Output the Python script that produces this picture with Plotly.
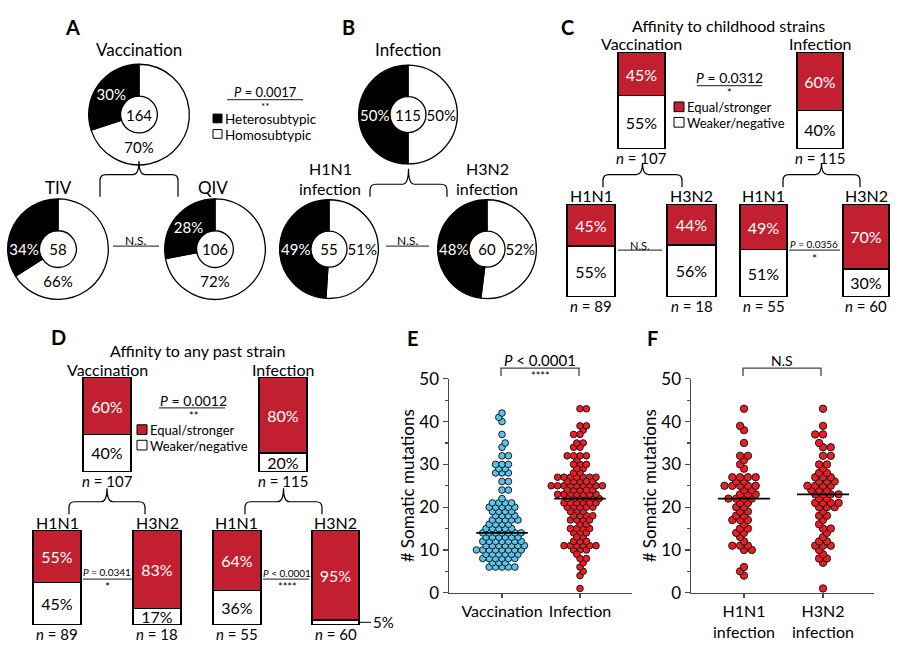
import numpy as np
import plotly.graph_objects as go

W, H = 898, 655
FONT = "Lato, 'DejaVu Sans', sans-serif"
RED_BAR = "#C21F30"
RED_DOT = "#EE1C25"
BLUE_DOT = "#5BC4EE"
AX_COL = "#4a4a4a"

# ---------------- data ----------------
pie_names = ["Vaccination", "TIV", "QIV", "Infection", "H1N1 infection", "H3N2 infection"]
pie_n = [164, 58, 106, 115, 55, 60]
pie_hetero = [30, 34, 28, 50, 49, 48]
pie_homo = [70, 66, 72, 50, 51, 52]
pie_labels = ["Homosubtypic", "Heterosubtypic"]

bar_names = ["Vaccination", "Infection", "H1N1", "H3N2", "H1N1", "H3N2"]
bar_n = [107, 115, 89, 18, 55, 60]
child_equal = [45, 60, 45, 44, 49, 70]
child_weaker = [55, 40, 55, 56, 51, 30]
past_equal = [60, 80, 55, 83, 64, 95]
past_weaker = [40, 20, 45, 17, 36, 5]
bar_labels = ["Equal/stronger", "Weaker/negative"]

vacc_mut = [6, 6, 6, 6, 6, 7, 7, 7, 8, 8, 8, 8, 8, 8, 9, 9, 9, 9, 9, 9,
            10, 10, 10, 10, 10, 10, 10, 10, 11, 11, 11, 11, 11, 11, 11,
            12, 12, 12, 12, 12, 12, 12, 13, 13, 13, 13, 13, 13,
            14, 14, 14, 14, 14, 14, 14, 15, 15, 15, 15, 15, 16, 16, 16, 16,
            17, 17, 17, 17, 17, 18, 18, 18, 18, 19, 19, 19, 19,
            20, 20, 20, 20, 20, 21, 21, 21, 21, 22, 24, 24, 26, 26,
            28, 28, 28, 29, 29, 30, 30, 30, 32, 32, 34, 35, 37, 40, 41, 42]
h1n1_mut = [4, 5, 6, 10, 10, 11, 11, 11, 12, 13, 14, 14, 15, 15, 16, 17, 17, 17,
            18, 18, 19, 19, 20, 20, 21, 21, 22, 22, 22, 22, 23, 23, 23, 24, 24,
            25, 25, 25, 25, 25, 26, 26, 27, 27, 27, 27, 29, 30, 31, 32, 32,
            35, 38, 39, 43]
h3n2_mut = [1, 7, 8, 8, 9, 10, 11, 11, 11, 12, 12, 13, 14, 15, 15, 16, 17, 18, 18,
            19, 20, 20, 20, 21, 21, 21, 21, 22, 22, 23, 23, 23, 23, 24, 24, 24,
            25, 25, 25, 25, 26, 26, 26, 27, 27, 27, 28, 28, 29, 30, 30, 32, 32,
            34, 34, 35, 37, 37, 39, 43]
infection_mut = h1n1_mut + h3n2_mut
e_cats = ["Vaccination", "Infection"]
f_cats = ["H1N1<br>infection", "H3N2<br>infection"]


# ---------------- helpers ----------------
def xp(x):
    return x / W


def yp(y):
    return 1 - y / H


fig = go.Figure()
layout = {}
shapes = []
annots = []


def ann(x, y, text, size=17, xanchor="center", **kw):
    d = dict(x=xp(x), y=yp(y), xref="paper", yref="paper", text=text, showarrow=False,
             xanchor=xanchor, yanchor="middle", font=dict(size=size, family=FONT, color="black"))
    d.update(kw)
    annots.append(d)


def hline(x0, x1, y, color="#444", width=1.2):
    shapes.append(dict(type="line", xref="paper", yref="paper", x0=xp(x0), x1=xp(x1),
                       y0=yp(y), y1=yp(y), line=dict(color=color, width=width)))


def swatch(x0, yc, size, color):
    shapes.append(dict(type="rect", xref="paper", yref="paper", x0=xp(x0), x1=xp(x0 + size),
                       y0=yp(yc + size / 2), y1=yp(yc - size / 2), fillcolor=color,
                       line=dict(color="black", width=1)))


def path(points, color="black", width=1.2):
    s = ""
    for cmd, pts in points:
        s += cmd + " ".join(f"{xp(a):.5f},{yp(b):.5f}" for a, b in pts) + " "
    shapes.append(dict(type="path", xref="paper", yref="paper", path=s.strip(),
                       line=dict(color=color, width=width)))


def brace(xl, xr, ytop, yarm, ybot):
    xc = (xl + xr) / 2
    r = 6
    path([("M", [(xl, ybot)]), ("L", [(xl, yarm + r)]), ("Q", [(xl, yarm), (xl + r, yarm)]),
          ("L", [(xc - r, yarm)]), ("Q", [(xc, yarm), (xc, ytop)]),
          ("Q", [(xc, yarm), (xc + r, yarm)]), ("L", [(xr - r, yarm)]),
          ("Q", [(xr, yarm), (xr, yarm + r)]), ("L", [(xr, ybot)])])


def sig_bracket(x0, x1, ytop, ybot):
    path([("M", [(x0, ybot)]), ("L", [(x0, ytop)]), ("L", [(x1, ytop)]), ("L", [(x1, ybot)])],
         color="#444", width=1.3)


# ---------------- pies (A, B) ----------------
pie_geo = [(139, 107, 52), (58, 246, 52), (215, 246, 52), (408, 107, 51), (329, 246, 51), (487, 246, 51)]
for i, (cx, cy, r) in enumerate(pie_geo):
    fig.add_trace(go.Pie(
        values=[pie_homo[i], pie_hetero[i]], labels=pie_labels, sort=False,
        direction="clockwise", rotation=0, hole=0.365,
        marker=dict(colors=["white", "black"], line=dict(color="black", width=1.3)),
        text=[f"{pie_homo[i]}%", f"{pie_hetero[i]}%"], textinfo="text",
        textposition="inside", insidetextorientation="horizontal",
        textfont=dict(color=["black", "white"], size=15, family=FONT),
        title=dict(text=str(pie_n[i]), position="middle center", font=dict(size=15, family=FONT, color="black")),
        domain=dict(x=[xp(cx - r), xp(cx + r)], y=[yp(cy + r), yp(cy - r)]),
        showlegend=False, name=pie_names[i], hoverinfo="label+percent"))

# ---------------- stacked bars (C, D) ----------------
c_boxes = [(618, 665, 43, 142), (797, 843, 43, 142), (567, 615, 200, 295),
           (667, 716, 200, 295), (740, 787, 200, 295), (843, 889, 200, 295)]
d_boxes = [(83, 131, 379, 476), (259, 307, 379, 476), (33, 81, 537, 634),
           (133, 181, 537, 634), (213, 261, 537, 634), (312, 359, 537, 634)]

k = 0
for eq, wk, boxes in [(child_equal, child_weaker, c_boxes), (past_equal, past_weaker, d_boxes)]:
    for i in range(6):
        k += 1
        sid = "" if k == 1 else str(k)
        x0, x1, y0, y1 = boxes[i]
        pad = 1.0
        w, h = x1 - x0, y1 - y0
        xr = 0.5 + pad / w
        layout[f"xaxis{sid}"] = dict(domain=[xp(x0 - pad), xp(x1 + pad)], range=[-xr, xr],
                                     visible=False, anchor=f"y{sid}", fixedrange=True)
        layout[f"yaxis{sid}"] = dict(domain=[yp(y1 + pad), yp(y0 - pad)],
                                     range=[-pad * 100 / h, 100 + pad * 100 / h],
                                     visible=False, anchor=f"x{sid}", fixedrange=True)
        fig.add_trace(go.Bar(
            x=[0], y=[wk[i]], width=[1], name=bar_labels[1], showlegend=False,
            marker=dict(color="white", line=dict(color="black", width=1.2)),
            text=[f"{wk[i]}%" if wk[i] >= 10 else ""], textposition="inside", textangle=0,
            insidetextanchor="middle", textfont=dict(color="black", size=16, family=FONT),
            xaxis=f"x{sid}", yaxis=f"y{sid}"))
        fig.add_trace(go.Bar(
            x=[0], y=[eq[i]], width=[1], name=bar_labels[0], showlegend=False,
            marker=dict(color=RED_BAR, line=dict(color="black", width=1.2)),
            text=[f"{eq[i]}%"], textposition="inside", textangle=0,
            insidetextanchor="middle", textfont=dict(color="white", size=16, family=FONT),
            xaxis=f"x{sid}", yaxis=f"y{sid}"))
        if wk[i] < 10:
            annots.append(dict(xref=f"x{sid}", yref=f"y{sid}", x=0.5, y=wk[i] / 2,
                               text=f"{wk[i]}%", showarrow=True, arrowhead=0, arrowwidth=1,
                               arrowcolor="black", ax=12, ay=0, xanchor="left", yanchor="middle",
                               font=dict(size=15, family=FONT, color="black")))
        cx = (x0 + x1) / 2
        ann(cx, y0 - 9, bar_names[i], 16)
        ann(cx, y1 + 10, f"<i>n</i> = {bar_n[i]}", 15)


# ---------------- swarm plots (E, F) ----------------
def swarm(vals, ypx, dxf, dyf=5.1):
    vals = np.asarray(vals, float)
    order = np.argsort(vals, kind="stable")
    pts = []
    off = np.zeros(len(vals))
    flip = 1
    for idx in order:
        y = vals[idx] * ypx
        near = [(a, b) for a, b in pts if abs(b - y) < dyf]
        cands = {0.0}
        for a, b in near:
            wd = dxf * np.sqrt(max(0.0, 1 - ((b - y) / dyf) ** 2))
            cands.add(a - wd)
            cands.add(a + wd)
        good = [c for c in cands
                if all(((c - a) / dxf) ** 2 + ((y - b) / dyf) ** 2 >= 1 - 1e-9 for a, b in near)]
        best = min(good, key=lambda c: (round(abs(c), 4), -flip * np.sign(c)))
        flip = -flip
        pts.append((best, y))
        off[idx] = best
    return off


panels = [
    dict(sid="13", px=(449, 632), cats=e_cats, centers=(502, 580),
         groups=[(vacc_mut, BLUE_DOT), (infection_mut, RED_DOT)], msize=6.6, dxf=6.4),
    dict(sid="14", px=(691, 874), cats=f_cats, centers=(744, 823),
         groups=[(h1n1_mut, RED_DOT), (h3n2_mut, RED_DOT)], msize=7.4, dxf=7.8),
]
Y0, Y1 = 601, 380
ypx = (Y0 - Y1) / 50.0
for p in panels:
    sid = p["sid"]
    xa0, xa1 = p["px"]
    c0, c1 = p["centers"]
    unit = c1 - c0
    rng = [-(c0 - xa0) / unit, 1 + (xa1 - c1) / unit]
    layout[f"xaxis{sid}"] = dict(
        domain=[xp(xa0), xp(xa1)], range=rng, anchor=f"y{sid}", tickvals=[0, 1], ticktext=p["cats"],
        tickangle=0, showline=True, linecolor=AX_COL, linewidth=1.5, ticks="outside", ticklen=4,
        tickwidth=1.3, tickcolor=AX_COL, showgrid=False, zeroline=False, fixedrange=True,
        tickfont=dict(size=16, family=FONT, color="black"))
    layout[f"yaxis{sid}"] = dict(
        domain=[yp(Y0), yp(Y1)], range=[0, 50], anchor=f"x{sid}", tick0=0, dtick=10,
        showline=True, linecolor=AX_COL, linewidth=1.5, ticks="outside", ticklen=5, tickwidth=1.3,
        tickcolor=AX_COL, showgrid=False, zeroline=False, fixedrange=True,
        minor=dict(dtick=5, ticks="outside", ticklen=3, tickcolor=AX_COL, tickwidth=1.2, showgrid=False),
        tickfont=dict(size=17, family=FONT, color="black"),
        title=dict(text="# Somatic mutations", font=dict(size=17, family=FONT, color="black"), standoff=0))
    for gi, (vals, col) in enumerate(p["groups"]):
        offs = swarm(vals, ypx, p["dxf"]) / unit
        fig.add_trace(go.Scatter(
            x=gi + offs, y=vals, mode="markers", showlegend=False,
            marker=dict(size=p["msize"], color=col, line=dict(color="#1a1a1a", width=1)),
            xaxis=f"x{sid}", yaxis=f"y{sid}", name=p["cats"][gi].replace("<br>", " "),
            cliponaxis=False))
        med = float(np.median(vals))
        fig.add_trace(go.Scatter(
            x=[gi - 0.33, gi + 0.33], y=[med, med], mode="lines", showlegend=False,
            line=dict(color="black", width=1.6), xaxis=f"x{sid}", yaxis=f"y{sid}", hoverinfo="skip"))

# ---------------- decorations & text ----------------
for t, x, y in [("A", 72, 17), ("B", 348, 17), ("C", 567, 17), ("D", 58, 337), ("E", 413, 338), ("F", 652, 338)]:
    ann(x, y, f"<b>{t}</b>", 20)

# A / B
ann(139, 40, "Vaccination", 17)
ann(58, 182, "TIV", 17)
ann(213, 182, "QIV", 17)
ann(408, 40, "Infection", 17)
ann(330, 163, "H1N1", 16)
ann(330, 183, "infection", 16)
ann(487, 163, "H3N2", 16)
ann(487, 183, "infection", 16)
brace(100, 178, 155, 169, 192)
brace(370, 447, 163, 179, 192)
hline(113, 159, 243)
ann(136, 237, "N.S.", 12)
hline(386, 429, 243)
ann(408, 237, "N.S.", 12)
ann(265, 83.5, "<i>P</i> = 0.0017", 13)
hline(227, 303, 91.5)
ann(265, 98, "**", 10)
swatch(213, 111, 9, "black")
ann(223, 112, "Heterosubtypic", 13.5, xanchor="left")
swatch(213, 127, 9, "white")
ann(223, 128, "Homosubtypic", 13.5, xanchor="left")

# C
ann(728, 15, "Affinity to childhood strains", 16)
ann(729, 69, "<i>P</i> = 0.0312", 14)
hline(697, 762, 77)
ann(729, 84, "*", 11)
swatch(674, 99, 10, RED_BAR)
ann(685, 99.5, "Equal/stronger", 13, xanchor="left")
swatch(674, 115, 10, "white")
ann(685, 115.5, "Weaker/negative", 13, xanchor="left")
brace(603, 682, 157, 169, 182)
brace(783, 860, 157, 169, 182)
hline(618, 662, 247)
ann(640, 242, "N.S.", 11)
ann(814, 241, "<i>P</i> = 0.0356", 10)
hline(789, 840, 247)
ann(814, 255.5, "*", 12)

# D
ann(197, 351, "Affinity to any past strain", 16)
ann(193, 402, "<i>P</i> = 0.0012", 14)
hline(159, 225, 410)
ann(193, 417.5, "**", 11)
swatch(137, 432.5, 10, RED_BAR)
ann(148, 433, "Equal/stronger", 13, xanchor="left")
swatch(137, 448.5, 10, "white")
ann(148, 449, "Weaker/negative", 13, xanchor="left")
brace(69, 145, 493, 507, 520)
brace(245, 322, 493, 507, 520)
ann(107, 580, "<i>P</i> = 0.0341", 10)
hline(83, 132, 587)
ann(107, 595, "*", 12)
ann(287, 581, "<i>P</i> < 0.0001", 10)
hline(263, 309, 587)
ann(287, 595, "****", 11)

# E / F significance
ann(540, 361, "<i>P</i> < 0.0001", 15)
sig_bracket(501, 579, 369, 377)
ann(540, 377, "****", 11)
ann(782, 361, "N.S", 14)
sig_bracket(743, 821, 369, 377)

layout.update(dict(
    width=W, height=H, margin=dict(l=0, r=0, t=0, b=0),
    paper_bgcolor="white", plot_bgcolor="rgba(0,0,0,0)",
    barmode="stack", showlegend=False, hovermode=False,
    font=dict(family=FONT, color="black"),
    uniformtext=dict(minsize=14, mode="show"),
    shapes=shapes, annotations=annots,
))
fig.update_layout(**layout)
fig.write_html("out.html", config={"displayModeBar": False, "staticPlot": True},
               post_script="document.body.style.margin='0px';document.body.style.padding='0px';")
